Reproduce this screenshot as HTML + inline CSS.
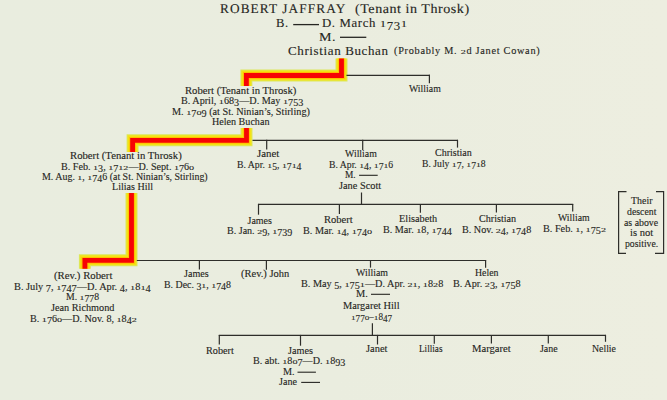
<!DOCTYPE html>
<html><head><meta charset="utf-8"><style>
html,body{margin:0;padding:0;}
body{width:667px;height:400px;overflow:hidden;position:relative;background:linear-gradient(90deg,#e9eddf 0%,#eaeddf 50%,#edeee0 100%);}
.t{position:absolute;white-space:nowrap;font-family:"Liberation Serif", serif;color:#262622;transform-origin:0 0;}
.t{-webkit-text-stroke:0.12px #262622;}
.oa{display:inline-block;transform-origin:0 0.8em;transform:scaleY(0.7);}.od{display:inline-block;transform-origin:0 0.8em;transform:translateY(0.21em) scaleY(0.97);}
</style></head><body>
<svg width="667" height="400" viewBox="0 0 667 400" style="position:absolute;left:0;top:0"><path d="M341.5,58.5 L341.5,75.5 L246.4,75.5 L246.4,86" fill="none" stroke="#dce85c" stroke-width="12" stroke-linejoin="miter" stroke-linecap="butt"/><path d="M246.5,128 L246.5,140.3 L132.6,140.3 L132.6,152" fill="none" stroke="#dce85c" stroke-width="12" stroke-linejoin="miter" stroke-linecap="butt"/><path d="M131.5,193 L131.5,260.3 L84.9,260.3 L84.9,268.8" fill="none" stroke="#dce85c" stroke-width="12" stroke-linejoin="miter" stroke-linecap="butt"/><path d="M341.5,58.5 L341.5,75.5 L246.4,75.5 L246.4,86" fill="none" stroke="#f3e214" stroke-width="10" stroke-linejoin="miter" stroke-linecap="butt"/><path d="M246.5,128 L246.5,140.3 L132.6,140.3 L132.6,152" fill="none" stroke="#f3e214" stroke-width="10" stroke-linejoin="miter" stroke-linecap="butt"/><path d="M131.5,193 L131.5,260.3 L84.9,260.3 L84.9,268.8" fill="none" stroke="#f3e214" stroke-width="10" stroke-linejoin="miter" stroke-linecap="butt"/><path d="M341.5,58.5 L341.5,75.5 L246.4,75.5 L246.4,86" fill="none" stroke="#ffbe00" stroke-width="6.8" stroke-linejoin="miter" stroke-linecap="butt"/><path d="M246.5,128 L246.5,140.3 L132.6,140.3 L132.6,152" fill="none" stroke="#ffbe00" stroke-width="6.8" stroke-linejoin="miter" stroke-linecap="butt"/><path d="M131.5,193 L131.5,260.3 L84.9,260.3 L84.9,268.8" fill="none" stroke="#ffbe00" stroke-width="6.8" stroke-linejoin="miter" stroke-linecap="butt"/><path d="M341.5,58.5 L341.5,75.5 L246.4,75.5 L246.4,86" fill="none" stroke="#f70404" stroke-width="4.8" stroke-linejoin="miter" stroke-linecap="butt"/><path d="M246.5,128 L246.5,140.3 L132.6,140.3 L132.6,152" fill="none" stroke="#f70404" stroke-width="4.8" stroke-linejoin="miter" stroke-linecap="butt"/><path d="M131.5,193 L131.5,260.3 L84.9,260.3 L84.9,268.8" fill="none" stroke="#f70404" stroke-width="4.8" stroke-linejoin="miter" stroke-linecap="butt"/><line x1="346.5" y1="75.3" x2="430.0" y2="75.3" stroke="#2e2e2a" stroke-width="1.2"/><line x1="429.4" y1="74.8" x2="429.4" y2="83.3" stroke="#2e2e2a" stroke-width="1.2"/><line x1="252.5" y1="140.3" x2="457.9" y2="140.3" stroke="#2e2e2a" stroke-width="1.2"/><line x1="266.7" y1="139.8" x2="266.7" y2="149.4" stroke="#2e2e2a" stroke-width="1.2"/><line x1="362.7" y1="139.8" x2="362.7" y2="150" stroke="#2e2e2a" stroke-width="1.2"/><line x1="457.5" y1="139.8" x2="457.5" y2="147.6" stroke="#2e2e2a" stroke-width="1.2"/><line x1="361.5" y1="192.5" x2="361.5" y2="204.3" stroke="#2e2e2a" stroke-width="1.2"/><line x1="258.0" y1="204.4" x2="573.2" y2="204.4" stroke="#2e2e2a" stroke-width="1.2"/><line x1="258.5" y1="203.9" x2="258.5" y2="214.7" stroke="#2e2e2a" stroke-width="1.2"/><line x1="339.4" y1="203.9" x2="339.4" y2="214" stroke="#2e2e2a" stroke-width="1.2"/><line x1="420.4" y1="203.9" x2="420.4" y2="212.7" stroke="#2e2e2a" stroke-width="1.2"/><line x1="496.4" y1="203.9" x2="496.4" y2="212.5" stroke="#2e2e2a" stroke-width="1.2"/><line x1="572.7" y1="203.9" x2="572.7" y2="211.4" stroke="#2e2e2a" stroke-width="1.2"/><line x1="136.8" y1="260.5" x2="486.1" y2="260.5" stroke="#2e2e2a" stroke-width="1.2"/><line x1="199.4" y1="260.0" x2="199.4" y2="269.5" stroke="#2e2e2a" stroke-width="1.2"/><line x1="266.4" y1="260.0" x2="266.4" y2="269.7" stroke="#2e2e2a" stroke-width="1.2"/><line x1="370.5" y1="260.0" x2="370.5" y2="267.6" stroke="#2e2e2a" stroke-width="1.2"/><line x1="485.6" y1="260.0" x2="485.6" y2="267.7" stroke="#2e2e2a" stroke-width="1.2"/><line x1="372.4" y1="323.3" x2="372.4" y2="335.4" stroke="#2e2e2a" stroke-width="1.2"/><line x1="218.8" y1="335.4" x2="606.0" y2="335.4" stroke="#2e2e2a" stroke-width="1.2"/><line x1="219.3" y1="334.9" x2="219.3" y2="344.5" stroke="#2e2e2a" stroke-width="1.2"/><line x1="300.5" y1="334.9" x2="300.5" y2="345.7" stroke="#2e2e2a" stroke-width="1.2"/><line x1="377.5" y1="334.9" x2="377.5" y2="344.5" stroke="#2e2e2a" stroke-width="1.2"/><line x1="434.3" y1="334.9" x2="434.3" y2="343.7" stroke="#2e2e2a" stroke-width="1.2"/><line x1="491.4" y1="334.9" x2="491.4" y2="343.6" stroke="#2e2e2a" stroke-width="1.2"/><line x1="548.3" y1="334.9" x2="548.3" y2="343.5" stroke="#2e2e2a" stroke-width="1.2"/><line x1="605.5" y1="334.9" x2="605.5" y2="341.8" stroke="#2e2e2a" stroke-width="1.2"/><line x1="293.2" y1="24.6" x2="319.0" y2="24.6" stroke="#262622" stroke-width="1.3"/><line x1="340.0" y1="37.3" x2="366.3" y2="37.3" stroke="#262622" stroke-width="1.3"/><line x1="359.1" y1="175.3" x2="377.7" y2="175.3" stroke="#262622" stroke-width="1.1"/><line x1="371.0" y1="294.3" x2="390.0" y2="294.3" stroke="#262622" stroke-width="1.1"/><line x1="297.5" y1="372.2" x2="315.9" y2="372.2" stroke="#262622" stroke-width="1.1"/><line x1="301.2" y1="382.4" x2="320.0" y2="382.4" stroke="#262622" stroke-width="1.1"/><path d="M626.5,191.6 H618.6 V253.3 H626" fill="none" stroke="#2e2e2a" stroke-width="1.2"/><path d="M656,191.6 H663.6 V253.3 H655" fill="none" stroke="#2e2e2a" stroke-width="1.2"/></svg>
<div class="t" style="text-rendering:geometricPrecision;left:219.61px;top:2px;font-size:13.4px;line-height:13.4px;letter-spacing:1.1px;transform:scaleX(0.9920)">ROBERT JAFFRAY</div>
<div class="t" style="text-rendering:geometricPrecision;left:355.20px;top:2px;font-size:13.4px;line-height:13.4px;letter-spacing:0.5px;transform:scaleX(1.0519)">(Tenant in Throsk)</div>
<div class="t" style="left:276.39px;top:17px;font-size:12.5px;line-height:12.5px;letter-spacing:0.5px;transform:scaleX(1.0100)">B.</div>
<div class="t" style="left:322.48px;top:17px;font-size:12.5px;line-height:12.5px;letter-spacing:0.6px;transform:scaleX(1.0235)">D. March <span class="oa">1</span><span class="od">7</span><span class="od">3</span><span class="oa">1</span></div>
<div class="t" style="left:319.28px;top:31px;font-size:12.5px;line-height:12.5px;letter-spacing:0.5px;transform:scaleX(1.1231)">M.</div>
<div class="t" style="left:288.20px;top:45px;font-size:12.5px;line-height:12.5px;letter-spacing:0.6px;transform:scaleX(1.0396)">Christian Buchan</div>
<div class="t" style="left:394.30px;top:46px;font-size:10px;line-height:10px;letter-spacing:0.7px;transform:scaleX(1.0261)">(Probably M. <span class="oa">2</span>d Janet Cowan)</div>
<div class="t" style="left:185.30px;top:86px;font-size:10px;line-height:10px;transform:scaleX(1.0673)">Robert (Tenant in Throsk)</div>
<div class="t" style="left:181.00px;top:96px;font-size:10px;line-height:10px;transform:scaleX(1.0167)">B. April, <span class="oa">1</span>68<span class="od">3</span>—D. May <span class="oa">1</span><span class="od">7</span><span class="od">5</span><span class="od">3</span></div>
<div class="t" style="left:171.90px;top:107px;font-size:10px;line-height:10px;transform:scaleX(1.0215)">M. <span class="oa">1</span><span class="od">7</span><span class="oa">0</span><span class="od">9</span> (at St. Ninian’s, Stirling)</div>
<div class="t" style="left:212.20px;top:117px;font-size:10px;line-height:10px;transform:scaleX(1.0088)">Helen Buchan</div>
<div class="t" style="left:409.20px;top:84px;font-size:10px;line-height:10px;transform:scaleX(0.9813)">William</div>
<div class="t" style="left:70.00px;top:151px;font-size:10px;line-height:10px;transform:scaleX(1.0702)">Robert (Tenant in Throsk)</div>
<div class="t" style="left:60.60px;top:162px;font-size:10px;line-height:10px;transform:scaleX(1.0114)">B. Feb. <span class="oa">1</span><span class="od">3</span>, <span class="oa">1</span><span class="od">7</span><span class="oa">1</span><span class="oa">2</span>—D. Sept. <span class="oa">1</span><span class="od">7</span>6<span class="oa">0</span></div>
<div class="t" style="left:42.30px;top:172px;font-size:10px;line-height:10px;transform:scaleX(0.9940)">M. Aug. <span class="oa">1</span>, <span class="oa">1</span><span class="od">7</span><span class="od">4</span>6 (at St. Ninian’s, Stirling)</div>
<div class="t" style="left:112.00px;top:182px;font-size:10px;line-height:10px;transform:scaleX(1.0050)">Lilias Hill</div>
<div class="t" style="left:257.40px;top:149px;font-size:10px;line-height:10px;transform:scaleX(1.0850)">Janet</div>
<div class="t" style="left:237.20px;top:160px;font-size:10px;line-height:10px;transform:scaleX(0.9742)">B. Apr. <span class="oa">1</span><span class="od">5</span>, <span class="oa">1</span><span class="od">7</span><span class="oa">1</span><span class="od">4</span></div>
<div class="t" style="left:345.00px;top:149px;font-size:10px;line-height:10px;transform:scaleX(0.9844)">William</div>
<div class="t" style="left:329.20px;top:160px;font-size:10px;line-height:10px;transform:scaleX(0.9712)">B. Apr. <span class="oa">1</span><span class="od">4</span>, <span class="oa">1</span><span class="od">7</span><span class="oa">1</span>6</div>
<div class="t" style="left:344.70px;top:170px;font-size:10px;line-height:10px;transform:scaleX(0.9364)">M.</div>
<div class="t" style="left:339.30px;top:181px;font-size:10px;line-height:10px;transform:scaleX(1.0341)">Jane Scott</div>
<div class="t" style="left:434.80px;top:148px;font-size:10px;line-height:10px;transform:scaleX(1.0054)">Christian</div>
<div class="t" style="left:421.70px;top:159px;font-size:10px;line-height:10px;transform:scaleX(0.9667)">B. July <span class="oa">1</span><span class="od">7</span>, <span class="oa">1</span><span class="od">7</span><span class="oa">1</span>8</div>
<div class="t" style="left:247.50px;top:216px;font-size:10px;line-height:10px;transform:scaleX(1.0000)">James</div>
<div class="t" style="left:226.80px;top:226px;font-size:10px;line-height:10px;transform:scaleX(1.0046)">B. Jan. <span class="oa">2</span><span class="od">9</span>, <span class="oa">1</span><span class="od">7</span><span class="od">3</span><span class="od">9</span></div>
<div class="t" style="left:323.70px;top:215px;font-size:10px;line-height:10px;transform:scaleX(1.0556)">Robert</div>
<div class="t" style="left:303.00px;top:226px;font-size:10px;line-height:10px;transform:scaleX(1.0191)">B. Mar. <span class="oa">1</span><span class="od">4</span>, <span class="oa">1</span><span class="od">7</span><span class="od">4</span><span class="oa">0</span></div>
<div class="t" style="left:398.70px;top:214px;font-size:10px;line-height:10px;transform:scaleX(1.0270)">Elisabeth</div>
<div class="t" style="left:382.70px;top:225px;font-size:10px;line-height:10px;transform:scaleX(1.0147)">B. Mar. <span class="oa">1</span>8, <span class="oa">1</span><span class="od">7</span><span class="od">4</span><span class="od">4</span></div>
<div class="t" style="left:478.70px;top:214px;font-size:10px;line-height:10px;transform:scaleX(1.0135)">Christian</div>
<div class="t" style="left:462.20px;top:225px;font-size:10px;line-height:10px;transform:scaleX(1.0147)">B. Nov. <span class="oa">2</span><span class="od">4</span>, <span class="oa">1</span><span class="od">7</span><span class="od">4</span>8</div>
<div class="t" style="left:558.30px;top:213px;font-size:10px;line-height:10px;transform:scaleX(0.9781)">William</div>
<div class="t" style="left:542.70px;top:224px;font-size:10px;line-height:10px;transform:scaleX(1.0213)">B. Feb. <span class="oa">1</span>, <span class="oa">1</span><span class="od">7</span><span class="od">5</span><span class="oa">2</span></div>
<div class="t" style="left:630.50px;top:196px;font-size:10px;line-height:10px;transform:scaleX(0.9909)">Their</div>
<div class="t" style="left:626.70px;top:207px;font-size:10px;line-height:10px;transform:scaleX(0.9800)">descent</div>
<div class="t" style="left:624.00px;top:218px;font-size:10px;line-height:10px;transform:scaleX(0.9829)">as above</div>
<div class="t" style="left:629.80px;top:228px;font-size:10px;line-height:10px;transform:scaleX(1.0545)">is not</div>
<div class="t" style="left:624.50px;top:239px;font-size:10px;line-height:10px;transform:scaleX(0.9706)">positive.</div>
<div class="t" style="left:54.00px;top:271px;font-size:10px;line-height:10px;transform:scaleX(1.0741)">(Rev.) Robert</div>
<div class="t" style="left:14.30px;top:282px;font-size:10px;line-height:10px;transform:scaleX(1.0318)">B. July <span class="od">7</span>, <span class="oa">1</span><span class="od">7</span><span class="od">4</span><span class="od">7</span>—D. Apr. <span class="od">4</span>, <span class="oa">1</span>8<span class="oa">1</span><span class="od">4</span></div>
<div class="t" style="left:66.40px;top:292px;font-size:10px;line-height:10px;transform:scaleX(0.9735)">M. <span class="oa">1</span><span class="od">7</span><span class="od">7</span>8</div>
<div class="t" style="left:51.00px;top:303px;font-size:10px;line-height:10px;transform:scaleX(1.0242)">Jean Richmond</div>
<div class="t" style="left:30.00px;top:314px;font-size:10px;line-height:10px;transform:scaleX(1.0124)">B. <span class="oa">1</span><span class="od">7</span>6<span class="oa">0</span>—D. Nov. 8, <span class="oa">1</span>8<span class="od">4</span><span class="oa">2</span></div>
<div class="t" style="left:184.10px;top:269px;font-size:10px;line-height:10px;transform:scaleX(1.0083)">James</div>
<div class="t" style="left:163.80px;top:280px;font-size:10px;line-height:10px;transform:scaleX(0.9882)">B. Dec. <span class="od">3</span><span class="oa">1</span>, <span class="oa">1</span><span class="od">7</span><span class="od">4</span>8</div>
<div class="t" style="left:240.80px;top:269px;font-size:10px;line-height:10px;transform:scaleX(1.0478)">(Rev.) John</div>
<div class="t" style="left:356.10px;top:268px;font-size:10px;line-height:10px;transform:scaleX(0.9906)">William</div>
<div class="t" style="left:300.90px;top:279px;font-size:10px;line-height:10px;transform:scaleX(1.0223)">B. May <span class="od">5</span>, <span class="oa">1</span><span class="od">7</span><span class="od">5</span><span class="oa">1</span>—D. Apr. <span class="oa">2</span><span class="oa">1</span>, <span class="oa">1</span>8<span class="oa">2</span>8</div>
<div class="t" style="left:356.10px;top:289px;font-size:10px;line-height:10px;transform:scaleX(1.0364)">M.</div>
<div class="t" style="left:343.20px;top:301px;font-size:10px;line-height:10px;transform:scaleX(1.0389)">Margaret Hill</div>
<div class="t" style="left:351.09px;top:312px;font-size:10px;line-height:10px;transform:scaleX(0.9136)"><span class="oa">1</span><span class="od">7</span><span class="od">7</span><span class="oa">0</span>–<span class="oa">1</span>8<span class="od">4</span><span class="od">7</span></div>
<div class="t" style="left:475.10px;top:268px;font-size:10px;line-height:10px;transform:scaleX(0.9833)">Helen</div>
<div class="t" style="left:452.50px;top:279px;font-size:10px;line-height:10px;transform:scaleX(1.0227)">B. Apr. <span class="oa">2</span><span class="od">3</span>, <span class="oa">1</span><span class="od">7</span><span class="od">5</span>8</div>
<div class="t" style="left:205.50px;top:346px;font-size:10px;line-height:10px;transform:scaleX(1.0185)">Robert</div>
<div class="t" style="left:287.50px;top:346px;font-size:10px;line-height:10px;transform:scaleX(1.0208)">James</div>
<div class="t" style="left:253.40px;top:356px;font-size:10px;line-height:10px;transform:scaleX(1.0132)">B. abt. <span class="oa">1</span>8<span class="oa">0</span><span class="od">7</span>—D. <span class="oa">1</span>8<span class="od">9</span><span class="od">3</span></div>
<div class="t" style="left:282.50px;top:367px;font-size:10px;line-height:10px;transform:scaleX(1.0182)">M.</div>
<div class="t" style="left:279.00px;top:377px;font-size:10px;line-height:10px;transform:scaleX(1.0056)">Jane</div>
<div class="t" style="left:366.10px;top:344px;font-size:10px;line-height:10px;transform:scaleX(1.0450)">Janet</div>
<div class="t" style="left:419.10px;top:344px;font-size:10px;line-height:10px;transform:scaleX(0.9192)">Lillias</div>
<div class="t" style="left:472.40px;top:344px;font-size:10px;line-height:10px;transform:scaleX(1.0611)">Margaret</div>
<div class="t" style="left:540.30px;top:344px;font-size:10px;line-height:10px;transform:scaleX(0.9944)">Jane</div>
<div class="t" style="left:592.00px;top:344px;font-size:10px;line-height:10px;transform:scaleX(0.9792)">Nellie</div>
</body></html>
